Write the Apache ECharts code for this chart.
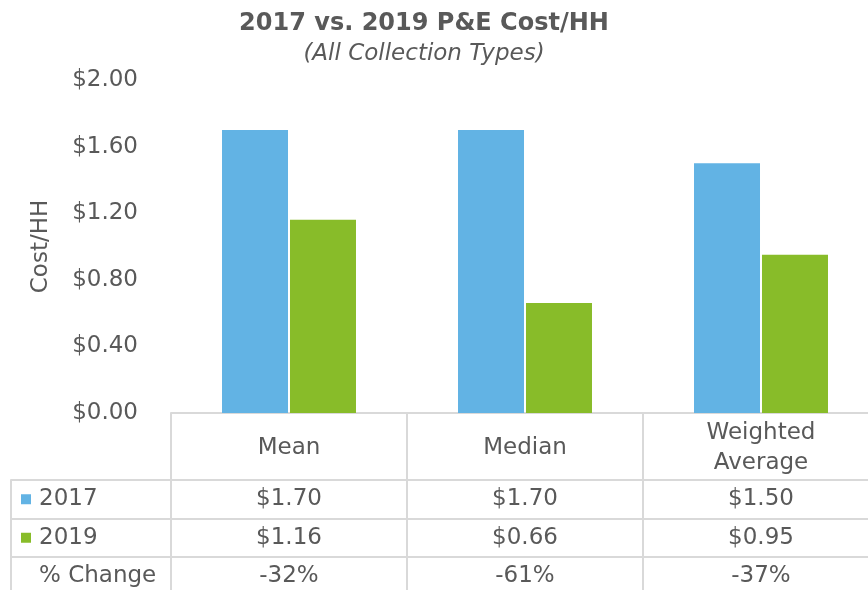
<!DOCTYPE html>
<html><head><meta charset="utf-8">
<script src="https://cdn.jsdelivr.net/npm/echarts@6/dist/echarts.min.js"></script>
<style>html,body{margin:0;padding:0;background:#fff}#c{width:868px;height:590px}</style>
</head><body><div id="c"></div>
<script>
const categories = ['Mean', 'Median', 'Weighted\nAverage'];
const values2017 = [1.70, 1.70, 1.50];
const values2019 = [1.16, 0.66, 0.95];
const pctChange = [-32, -61, -37];
const rowLabels = ['2017', '2019', '% Change'];
const yMin = 0, yMax = 2, yInterval = 0.4;

const colors = ['#62B3E4', '#88BC29'];
const FONT = 'DejaVu Sans';
const TXT = '#595959';
const LINE = '#D9D9D9';
const FS = 23;

const cellData = [];
categories.forEach((c, i) => {
  cellData.push({ value: [i, 0], text: '$' + values2017[i].toFixed(2) });
  cellData.push({ value: [i, 1], text: '$' + values2019[i].toFixed(2) });
  cellData.push({ value: [i, 2], text: pctChange[i] + '%' });
});

const chart = echarts.init(document.getElementById('c'));
chart.setOption({
  animation: false,
  textStyle: { fontFamily: FONT },
  title: [
    { text: '2017 vs. 2019 P&E Cost/HH', left: 419, top: 7, textAlign: 'center',
      textStyle: { fontFamily: FONT, fontSize: 24, fontWeight: 'bold', color: TXT } },
    { text: '(All Collection Types)', left: 419, top: 38, textAlign: 'center',
      textStyle: { fontFamily: FONT, fontSize: FS, fontStyle: 'italic', fontWeight: 'normal', color: TXT } }
  ],
  grid: [
    { left: 171, top: 80, width: 708, height: 333, outerBoundsMode: 'none', containLabel: false },
    { left: 171, top: 480, width: 708, height: 115.5, outerBoundsMode: 'none', containLabel: false }
  ],
  xAxis: [
    { type: 'category', gridIndex: 0, data: categories,
      axisLine: { show: true, lineStyle: { color: LINE, width: 2 } },
      axisTick: { show: true, length: 67, lineStyle: { color: LINE, width: 2 } },
      axisLabel: { fontFamily: FONT, fontSize: FS, color: TXT, margin: 35, verticalAlign: 'middle', lineHeight: 30 } },
    { type: 'category', gridIndex: 1, data: categories,
      axisLine: { show: false }, axisTick: { show: false }, axisLabel: { show: false },
      splitLine: { show: true, lineStyle: { color: LINE, width: 2 } } }
  ],
  yAxis: [
    { type: 'value', gridIndex: 0, min: yMin, max: yMax, interval: yInterval,
      name: 'Cost/HH', nameLocation: 'middle', nameGap: 118,
      nameTextStyle: { fontFamily: FONT, fontSize: FS, color: TXT },
      axisLine: { show: false }, axisTick: { show: false }, splitLine: { show: false },
      axisLabel: { fontFamily: FONT, fontSize: FS, color: TXT, margin: 33,
        formatter: v => '$' + v.toFixed(2) } },
    { type: 'category', gridIndex: 1, data: rowLabels, inverse: true,
      axisLine: { show: true, lineStyle: { color: LINE, width: 2 } },
      axisTick: { show: true, length: 160, lineStyle: { color: LINE, width: 2 } },
      splitLine: { show: true, lineStyle: { color: LINE, width: 2 } },
      axisLabel: { align: 'left', margin: 150,
        formatter: (v, i) => (i < 2 ? '{m' + i + '|}' : '{n|}') + '{t|' + v + '}',
        rich: {
          m0: { width: 10, height: 10, backgroundColor: colors[0] },
          m1: { width: 10, height: 10, backgroundColor: colors[1] },
          n: { width: 10, height: 10 },
          t: { fontFamily: FONT, fontSize: FS, color: TXT, padding: [0, 0, 0, 8] }
        } } },
    { type: 'category', gridIndex: 1, data: rowLabels, inverse: true, position: 'left', offset: 160,
      axisLine: { show: true, lineStyle: { color: LINE, width: 2 } },
      axisTick: { show: false }, axisLabel: { show: false }, splitLine: { show: false } }
  ],
  series: [
    { name: '2017', type: 'bar', xAxisIndex: 0, yAxisIndex: 0, data: values2017,
      barWidth: 66, barGap: '3%', itemStyle: { color: colors[0] } },
    { name: '2019', type: 'bar', xAxisIndex: 0, yAxisIndex: 0, data: values2019,
      barWidth: 66, barGap: '3%', itemStyle: { color: colors[1] } },
    { type: 'scatter', xAxisIndex: 1, yAxisIndex: 1, data: cellData,
      symbolSize: 1, itemStyle: { color: 'rgba(0,0,0,0)', opacity: 1 },
      label: { show: true, position: 'inside', formatter: p => p.data.text,
        fontFamily: FONT, fontSize: FS, color: TXT } }
  ]
});
</script></body></html>
